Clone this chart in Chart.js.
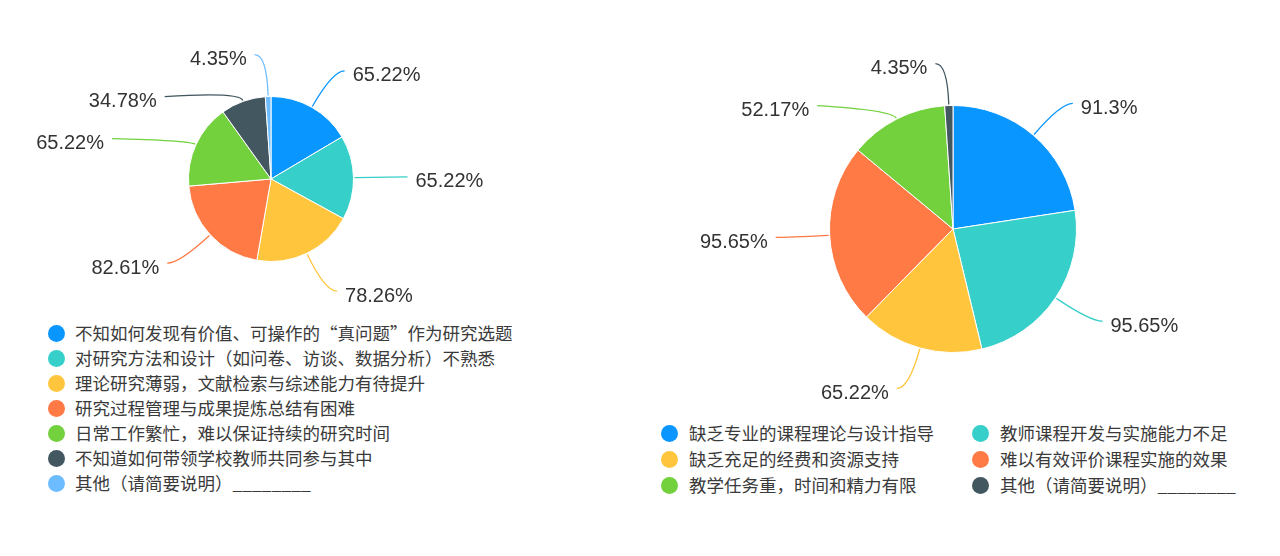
<!DOCTYPE html>
<html>
<head>
<meta charset="utf-8">
<script src="https://cdn.jsdelivr.net/npm/chart.js@4/dist/chart.umd.min.js"></script>
<style>
  html, body { margin: 0; padding: 0; background: #fff; }
  body { width: 1280px; height: 556px; position: relative; overflow: hidden; }
  canvas { position: absolute; }
  .item {
    position: absolute; height: 24px; line-height: 24px; white-space: nowrap;
    font-family: "Noto Sans CJK SC", sans-serif; font-size: 17.5px; color: #3a3a3a;
  }
  .dot {
    position: absolute; top: 3.5px; width: 17px; height: 17px; border-radius: 50%;
  }
</style>
</head>
<body>
<canvas id="left" width="640" height="320" style="left:0;top:0"></canvas>
<canvas id="right" width="640" height="420" style="left:640px;top:0"></canvas>
<div id="legend"></div>
<script>
//Left chart data
const leftLabels = [
    '不知如何发现有价值、可操作的“真问题”作为研究选题',
    '对研究方法和设计（如问卷、访谈、数据分析）不熟悉',
    '理论研究薄弱，文献检索与综述能力有待提升',
    '研究过程管理与成果提炼总结有困难',
    '日常工作繁忙，难以保证持续的研究时间',
    '不知道如何带领学校教师共同参与其中',
    '其他（请简要说明）________'
];
const leftValues = [65.22, 65.22, 78.26, 82.61, 65.22, 34.78, 4.35];

//Right chart data
const rightLabels = [
    '缺乏专业的课程理论与设计指导',
    '教师课程开发与实施能力不足',
    '缺乏充足的经费和资源支持',
    '难以有效评价课程实施的效果',
    '教学任务重，时间和精力有限',
    '其他（请简要说明）________'
];
const rightValues = [91.3, 95.65, 65.22, 95.65, 52.17, 4.35];

//Colours
const leftColours = ['#0a96ff', '#36cfc9', '#ffc53d', '#ff7a45', '#73d13d', '#435761', '#6cbcff'];
const rightColours = ['#0a96ff', '#36cfc9', '#ffc53d', '#ff7a45', '#73d13d', '#435761'];

//Draws the % labels with curved leader lines
const calloutPlugin = {
    id: 'callouts',
    afterDatasetsDraw(chart) {
        const ctx = chart.ctx;
        const meta = chart.getDatasetMeta(0);
        const values = chart.data.datasets[0].data;
        const colours = chart.data.datasets[0].backgroundColor;
        const L1 = 42, L2 = 12, gap = 42;
        var items = [];

        meta.data.forEach(function(arc, i) {
            const p = arc.getProps(['x', 'y', 'startAngle', 'endAngle', 'outerRadius'], true);
            const mid = (p.startAngle + p.endAngle) / 2;
            const dx = Math.cos(mid), dy = Math.sin(mid);
            items.push({
                i: i, cx: p.x, cy: p.y, r: p.outerRadius, dx: dx, dy: dy,
                side: dx >= 0 ? 1 : -1,
                y: p.y + dy * (p.outerRadius + L1),
                adjusted: false
            });
        });

        //Pushes overlapping labels down on each side
        [1, -1].forEach(function(side) {
            var list = items.filter(it => it.side == side).sort((a, b) => a.y - b.y);
            for (var k = 1; k < list.length; k++) {
                if (list[k].y < list[k - 1].y + gap) {
                    list[k].y = list[k - 1].y + gap;
                    list[k].adjusted = true;
                }
            }
        });

        ctx.save();
        items.forEach(function(it) {
            const p0 = { x: it.cx + it.dx * (it.r + 1), y: it.cy + it.dy * (it.r + 1) };
            var e, end;
            if (!it.adjusted) {
                e = { x: it.cx + it.dx * (it.r + L1), y: it.cy + it.dy * (it.r + L1) };
                end = { x: e.x + it.side * L2, y: e.y };
            } else {
                e = { x: it.cx + it.dx * (it.r + 10), y: it.cy + it.dy * (it.r + 10) };
                end = { x: e.x + it.side * 75, y: it.y };
            }

            ctx.beginPath();
            ctx.moveTo(p0.x, p0.y);
            ctx.quadraticCurveTo(e.x, e.y, end.x, end.y);
            ctx.strokeStyle = colours[it.i];
            ctx.lineWidth = 1.3;
            ctx.stroke();

            ctx.font = '20px "Liberation Sans", Arial, sans-serif';
            ctx.fillStyle = '#333';
            ctx.textBaseline = 'middle';
            ctx.textAlign = it.side > 0 ? 'left' : 'right';
            ctx.fillText(values[it.i] + '%', end.x + it.side * 8, end.y + 5);
        });
        ctx.restore();
    }
};

function makePie(id, labels, values, colours, padding) {
    return new Chart(document.getElementById(id), {
        type: 'pie',
        data: {
            labels: labels,
            datasets: [{
                data: values,
                backgroundColor: colours,
                borderColor: '#fff',
                borderWidth: 1
            }]
        },
        options: {
            responsive: false,
            animation: false,
            layout: { padding: padding },
            plugins: {
                legend: { display: false },
                tooltip: { enabled: false }
            }
        },
        plugins: [calloutPlugin]
    });
}

//Pie centre (271,179) r 83 and (953,229) r 124
makePie('left', leftLabels, leftValues, leftColours, { left: 188, top: 96, right: 286, bottom: 58 });
makePie('right', rightLabels, rightValues, rightColours, { left: 189, top: 105, right: 203, bottom: 67 });

//HTML legends
const legend = document.getElementById('legend');

function addItem(text, colour, dotX, textX, yc) {
    var div = document.createElement('div');
    div.className = 'item';
    div.style.left = (dotX - 8) + 'px';
    div.style.top = (yc - 12) + 'px';
    div.innerHTML = '<span class="dot" style="left:0;background:' + colour + '"></span>' +
        '<span style="position:absolute;left:' + (textX - dotX + 8) + 'px">' + text + '</span>';
    legend.appendChild(div);
}

for (var i = 0; i < leftLabels.length; i++) {
    addItem(leftLabels[i], leftColours[i], 56, 75, 333 + i * 25);
}

for (var i = 0; i < rightLabels.length; i++) {
    var col = i % 2;
    var row = Math.floor(i / 2);
    addItem(rightLabels[i], rightColours[i], col ? 980 : 669, col ? 1000 : 689, 433 + row * 26);
}
</script>
</body>
</html>
